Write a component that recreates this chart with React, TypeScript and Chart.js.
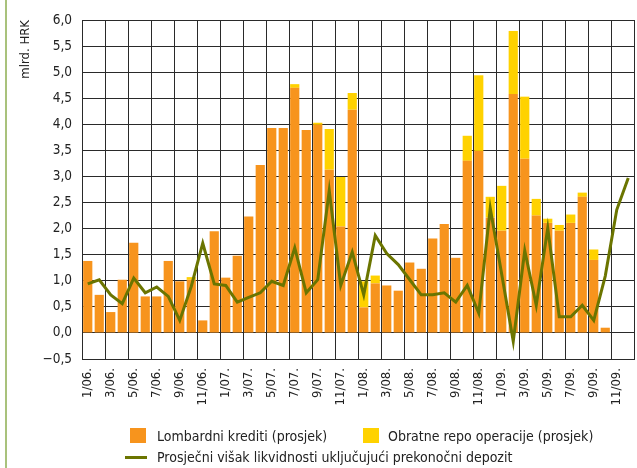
import React, { useEffect, useRef } from "react";
import { Chart, registerables } from "chart.js";

Chart.register(...registerables);

const categories = [
  "1/06.", "2/06.", "3/06.", "4/06.", "5/06.", "6/06.", "7/06.", "8/06.", "9/06.", "10/06.", "11/06.", "12/06.",
  "1/07.", "2/07.", "3/07.", "4/07.", "5/07.", "6/07.", "7/07.", "8/07.", "9/07.", "10/07.", "11/07.", "12/07.",
  "1/08.", "2/08.", "3/08.", "4/08.", "5/08.", "6/08.", "7/08.", "8/08.", "9/08.", "10/08.", "11/08.", "12/08.",
  "1/09.", "2/09.", "3/09.", "4/09.", "5/09.", "6/09.", "7/09.", "8/09.", "9/09.", "10/09.", "11/09.", "12/09.",
];

const lombardni = [
  1.38, 0.73, 0.4, 1.02, 1.73, 0.7, 0.7, 1.38, 0.99, 1.02, 0.24, 1.95,
  1.06, 1.48, 2.23, 3.22, 3.93, 3.93, 4.7, 3.89, 3.99, 3.13, 2.04, 4.28,
  0.49, 0.95, 0.91, 0.81, 1.35, 1.23, 1.81, 2.09, 1.44, 3.3, 3.49, 2.21,
  1.96, 4.58, 3.34, 2.25, 2.11, 1.96, 2.11, 2.61, 1.4, 0.1, null, null,
];

const repo = [
  0, 0, 0, 0, 0, 0, 0, 0, 0, 0.05, 0, 0,
  0, 0, 0, 0, 0, 0, 0.07, 0, 0.04, 0.78, 0.95, 0.32,
  0.5, 0.15, 0, 0, 0, 0, 0, 0, 0, 0.48, 1.45, 0.4,
  0.86, 1.21, 1.19, 0.32, 0.08, 0.11, 0.16, 0.08, 0.2, 0, null, null,
];

const visak = [
  0.94, 1.02, 0.73, 0.56, 1.05, 0.77, 0.88, 0.7, 0.24, 0.89, 1.72, 0.94,
  0.91, 0.59, 0.68, 0.77, 0.99, 0.91, 1.63, 0.77, 1.02, 2.73, 0.91, 1.55,
  0.73, 1.87, 1.52, 1.31, 1.02, 0.73, 0.73, 0.77, 0.59, 0.91, 0.38, 2.39,
  1.12, -0.16, 1.58, 0.53, 2.01, 0.31, 0.31, 0.53, 0.24, 1.09, 2.36, 2.97,
];

const seriesNames = [
  "Lombardni krediti (prosjek)",
  "Obratne repo operacije (prosjek)",
  "Prosječni višak likvidnosti uključujući prekonočni depozit",
];

const ORANGE = "#f7941d";
const YELLOW = "#ffd200";
const OLIVE = "#6b7500";
const GRID = "#2a2a2a";
const FONT = "'DejaVu Sans Condensed', sans-serif";

export default function App() {
  const ref = useRef<HTMLCanvasElement | null>(null);

  useEffect(() => {
    if (!ref.current) return;
    const chart = new Chart(ref.current, {
      type: "bar",
      data: {
        labels: categories,
        datasets: [
          {
            type: "line",
            label: seriesNames[2],
            data: visak,
            borderColor: OLIVE,
            backgroundColor: OLIVE,
            borderWidth: 3,
            pointRadius: 0,
            tension: 0,
            stack: "line",
            order: 0,
          } as any,
          {
            label: seriesNames[0],
            data: lombardni,
            backgroundColor: ORANGE,
            stack: "bars",
            barPercentage: 0.8,
            categoryPercentage: 1,
            order: 1,
          },
          {
            label: seriesNames[1],
            data: repo,
            backgroundColor: YELLOW,
            stack: "bars",
            barPercentage: 0.8,
            categoryPercentage: 1,
            order: 1,
          },
        ],
      },
      options: {
        responsive: false,
        animation: false,
        layout: { padding: { left: 12, top: 20, right: 3, bottom: 49 } },
        plugins: { legend: { display: false }, tooltip: { enabled: false } },
        scales: {
          x: {
            stacked: true,
            grid: {
              offset: true,
              drawTicks: false,
              lineWidth: 1,
              color: (ctx: any) =>
                ctx.index === undefined || ctx.index % 2 === 0 ? GRID : "rgba(0,0,0,0)",
            },
            border: { color: GRID, width: 1 },
            ticks: {
              autoSkip: false,
              maxRotation: 90,
              minRotation: 90,
              padding: 9,
              color: "#222",
              font: { family: FONT, size: 13 },
              callback: (_v: any, i: number) => (i % 2 === 0 ? categories[i] : ""),
            },
            afterFit: (axis: any) => {
              axis.height = 60;
              axis.paddingRight = 0;
              axis.paddingLeft = 0;
            },
          },
          y: {
            stacked: true,
            min: -0.5,
            max: 6,
            grid: { color: GRID, lineWidth: 1, drawTicks: false },
            border: { color: GRID, width: 1 },
            ticks: {
              stepSize: 0.5,
              padding: 10,
              color: "#222",
              font: { family: FONT, size: 13.5 },
              callback: (v: any) => Number(v).toFixed(1).replace(".", ",").replace("-", "\u2212"),
            },
            title: {
              display: true,
              text: "mlrd. HRK",
              align: "end",
              color: "#222",
              font: { family: FONT, size: 13 },
              padding: { top: 6, bottom: 0 },
            },
            afterFit: (axis: any) => {
              axis.width = 70;
            },
          },
        },
      },
    });
    return () => chart.destroy();
  }, []);

  const legendText: React.CSSProperties = {
    position: "absolute",
    fontFamily: FONT,
    fontSize: 14,
    color: "#222",
    lineHeight: "16px",
    whiteSpace: "nowrap",
  };

  return (
    <div
      style={{
        position: "fixed",
        left: 0,
        top: 0,
        width: 637,
        height: 468,
        background: "#fff",
        overflow: "hidden",
      }}
    >
      <div style={{ position: "absolute", left: 5, top: 0, width: 2, height: 468, background: "#a9c27c" }} />
      <canvas ref={ref} width={637} height={468} style={{ position: "absolute", left: 0, top: 0 }} />
      <div style={{ position: "absolute", left: 130, top: 428, width: 16, height: 15, background: ORANGE }} />
      <div style={{ ...legendText, left: 157, top: 428 }}>{seriesNames[0]}</div>
      <div style={{ position: "absolute", left: 363, top: 428, width: 16, height: 15, background: YELLOW }} />
      <div style={{ ...legendText, left: 388, top: 428 }}>{seriesNames[1]}</div>
      <div style={{ position: "absolute", left: 125, top: 456, width: 22, height: 3, background: OLIVE }} />
      <div style={{ ...legendText, left: 157, top: 449 }}>{seriesNames[2]}</div>
    </div>
  );
}
